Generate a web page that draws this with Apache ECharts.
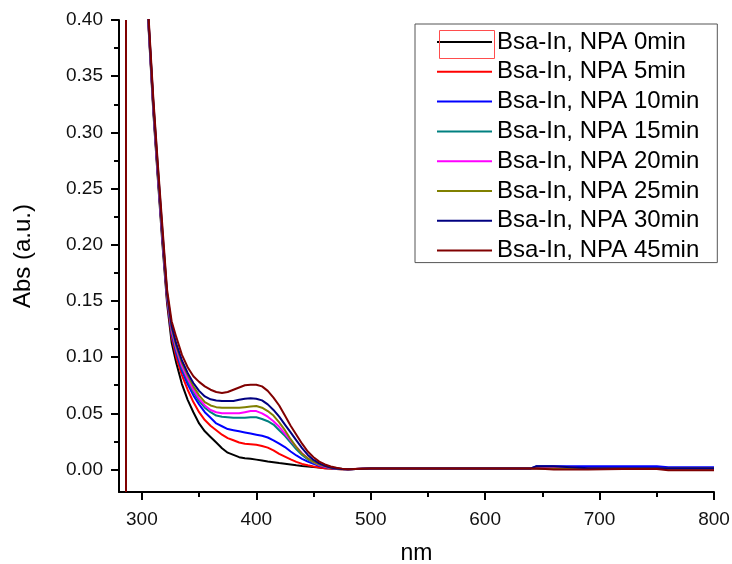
<!DOCTYPE html>
<html>
<head>
<meta charset="utf-8">
<script src="https://cdn.jsdelivr.net/npm/echarts@6/dist/echarts.min.js"></script>
<style>
html,body{margin:0;padding:0;background:#fff;}
#chart{width:732px;height:564px;}
</style>
</head>
<body>
<div id="chart"></div>
<script>
// ---- data ----
const wavelengths = [303, 306, 310, 314, 318, 322, 326, 330, 335, 340, 345, 350, 355, 360, 365, 370, 375, 380, 385, 390, 395, 400, 405, 410, 415, 420, 425, 430, 435, 440, 445, 450, 455, 460, 465, 470, 475, 480, 500, 550, 600, 640, 645, 660, 690, 720, 750, 760, 800];

const seriesNames = ['Bsa-In, NPA 0min', 'Bsa-In, NPA 5min', 'Bsa-In, NPA 10min', 'Bsa-In, NPA 15min', 'Bsa-In, NPA 20min', 'Bsa-In, NPA 25min', 'Bsa-In, NPA 30min', 'Bsa-In, NPA 45min'];
const seriesColors = ['#000000', '#FF0000', '#0000FF', '#008080', '#FF00FF', '#808000', '#000080', '#800000'];

const abs0min = [0.455, 0.390, 0.318, 0.258, 0.200, 0.148, 0.113, 0.095, 0.076, 0.062, 0.051, 0.041, 0.034, 0.029, 0.024, 0.019, 0.015, 0.013, 0.011, 0.010, 0.0095, 0.0088, 0.0080, 0.0072, 0.0065, 0.0058, 0.0052, 0.0045, 0.0038, 0.0032, 0.0027, 0.0022, 0.0017, 0.0012, 0.0008, 0.0005, 0.0003, 0.0002, 0.0008, 0.0010, 0.0010, 0.0010, 0.0010, 0.0010, 0.0010, 0.0010, 0.0010, 0.0008, 0.0008];
const abs5min = [0.457, 0.392, 0.321, 0.261, 0.204, 0.151, 0.118, 0.100, 0.084, 0.071, 0.060, 0.051, 0.044, 0.039, 0.035, 0.031, 0.028, 0.026, 0.024, 0.023, 0.0225, 0.022, 0.021, 0.0195, 0.017, 0.014, 0.0115, 0.009, 0.0068, 0.005, 0.0038, 0.0027, 0.0018, 0.0012, 0.0008, 0.0005, 0.0003, 0.0002, 0.0012, 0.0012, 0.0012, 0.0012, 0.0012, 0.0012, 0.0012, 0.0012, 0.0012, 0.0012, 0.0010];
const abs10min = [0.458, 0.393, 0.322, 0.262, 0.205, 0.153, 0.121, 0.104, 0.088, 0.076, 0.066, 0.058, 0.051, 0.046, 0.041, 0.0385, 0.036, 0.035, 0.034, 0.033, 0.032, 0.031, 0.030, 0.0285, 0.026, 0.023, 0.020, 0.016, 0.0125, 0.0095, 0.007, 0.005, 0.0034, 0.0022, 0.0013, 0.0007, 0.0004, 0.0002, 0.0010, 0.0010, 0.0010, 0.0010, 0.0030, 0.0030, 0.0030, 0.0030, 0.0030, 0.0020, 0.0020];
const abs15min = [0.459, 0.394, 0.323, 0.263, 0.206, 0.154, 0.123, 0.106, 0.090, 0.079, 0.069, 0.061, 0.055, 0.051, 0.048, 0.047, 0.0465, 0.046, 0.046, 0.046, 0.0465, 0.0465, 0.045, 0.043, 0.040, 0.035, 0.030, 0.024, 0.018, 0.013, 0.009, 0.006, 0.004, 0.0025, 0.0014, 0.0008, 0.0004, 0.0002, 0.0010, 0.0010, 0.0010, 0.0010, 0.0010, 0.0010, 0.0010, 0.0010, 0.0010, 0.0010, 0.0010];
const abs20min = [0.460, 0.395, 0.324, 0.264, 0.207, 0.155, 0.124, 0.108, 0.092, 0.081, 0.071, 0.063, 0.057, 0.053, 0.051, 0.050, 0.050, 0.050, 0.050, 0.051, 0.052, 0.052, 0.050, 0.047, 0.043, 0.038, 0.032, 0.026, 0.020, 0.0145, 0.010, 0.0065, 0.004, 0.0025, 0.0014, 0.0008, 0.0004, 0.0002, 0.0010, 0.0010, 0.0010, 0.0010, 0.0010, 0.0025, 0.0010, 0.0010, 0.0010, 0.0010, 0.0010];
const abs25min = [0.461, 0.396, 0.325, 0.266, 0.209, 0.156, 0.126, 0.110, 0.095, 0.084, 0.074, 0.066, 0.060, 0.057, 0.0555, 0.055, 0.055, 0.055, 0.055, 0.0555, 0.056, 0.0565, 0.055, 0.052, 0.048, 0.042, 0.035, 0.027, 0.020, 0.014, 0.010, 0.0068, 0.0045, 0.0028, 0.0016, 0.0009, 0.0004, 0.0002, 0.0010, 0.0010, 0.0010, 0.0010, 0.0010, 0.0010, 0.0010, 0.0010, 0.0010, 0.0010, 0.0010];
const abs30min = [0.462, 0.397, 0.327, 0.268, 0.211, 0.157, 0.128, 0.112, 0.097, 0.086, 0.077, 0.070, 0.065, 0.0625, 0.0615, 0.061, 0.061, 0.061, 0.062, 0.063, 0.0635, 0.063, 0.0615, 0.058, 0.053, 0.047, 0.040, 0.033, 0.026, 0.019, 0.013, 0.0085, 0.0055, 0.0033, 0.0018, 0.0010, 0.0005, 0.0002, 0.0010, 0.0010, 0.0010, 0.0010, 0.0030, 0.0030, 0.0012, 0.0012, 0.0012, 0.0012, 0.0012];
const abs45min = [0.465, 0.400, 0.330, 0.271, 0.215, 0.160, 0.132, 0.118, 0.102, 0.091, 0.083, 0.078, 0.074, 0.071, 0.069, 0.068, 0.069, 0.071, 0.073, 0.075, 0.0755, 0.0755, 0.074, 0.070, 0.064, 0.057, 0.048, 0.039, 0.031, 0.023, 0.016, 0.011, 0.007, 0.0045, 0.0027, 0.0015, 0.0008, 0.0003, 0.0010, 0.0010, 0.0010, 0.0010, 0.0010, 0.0000, 0.0000, 0.0005, 0.0005, -0.0006, -0.0006];

const spikeNm = 286;

const xTicks = [300, 400, 500, 600, 700, 800];
const xMinorTicks = [350, 450, 550, 650, 750];
const yTicks = [0, 0.05, 0.10, 0.15, 0.20, 0.25, 0.30, 0.35, 0.40];
const yMinorTicks = [0.025, 0.075, 0.125, 0.175, 0.225, 0.275, 0.325, 0.375];

// ---- chart ----
const allValues = [abs0min, abs5min, abs10min, abs15min, abs20min, abs25min, abs30min, abs45min];
const FONT = '"Liberation Sans", Arial, sans-serif';
const chart = echarts.init(document.getElementById('chart'), null, {renderer: 'canvas'});

const series = allValues.map((vals, i) => {
  const s = {
    name: seriesNames[i],
    type: 'line',
    data: wavelengths.map((w, j) => [w, vals[j]]),
    showSymbol: false,
    symbol: 'none',
    lineStyle: {color: seriesColors[i], width: 2},
    itemStyle: {color: seriesColors[i]},
    clip: true,
    z: 2 + i
  };
  if (i === allValues.length - 1) {
    s.markLine = {
      silent: true,
      symbol: 'none',
      label: {show: false},
      lineStyle: {color: seriesColors[i], width: 2, type: 'solid'},
      data: [{xAxis: spikeNm}]
    };
  }
  return s;
});

const axisLineStyle = {color: '#000', width: 2};

chart.setOption({
  animation: false,
  backgroundColor: '#fff',
  grid: {left: 119, right: 18, top: 20, bottom: 72, outerBoundsMode: 'none', containLabel: false},
  legend: {
    orient: 'vertical',
    left: 415,
    top: 24,
    padding: [6, 18, 0, 22],
    icon: 'rect',
    itemWidth: 55,
    itemHeight: 2,
    itemGap: 5.8,
    borderColor: '#555',
    borderWidth: 1,
    backgroundColor: '#fff',
    textStyle: {fontFamily: FONT, fontSize: 24, color: '#000', lineHeight: 24},
    data: seriesNames
  },
  xAxis: [{
    type: 'value',
    min: 280,
    max: 800,
    name: 'nm',
    nameLocation: 'middle',
    nameGap: 50,
    nameTextStyle: {fontFamily: FONT, fontSize: 23, color: '#000'},
    axisLine: {show: true, onZero: false, lineStyle: axisLineStyle},
    axisTick: {show: true, inside: false, length: 8, lineStyle: axisLineStyle, customValues: xTicks},
    axisLabel: {fontFamily: FONT, fontSize: 19, color: '#111', margin: 18, customValues: xTicks},
    splitLine: {show: false}
  }, {
    type: 'value',
    min: 280,
    max: 800,
    position: 'bottom',
    axisLine: {show: false, onZero: false},
    axisTick: {show: true, inside: false, length: 5, lineStyle: axisLineStyle, customValues: xMinorTicks},
    axisLabel: {show: false},
    splitLine: {show: false}
  }],
  yAxis: [{
    type: 'value',
    min: -0.02,
    max: 0.40,
    name: 'Abs (a.u.)',
    nameLocation: 'middle',
    nameGap: 84,
    nameRotate: 90,
    nameTextStyle: {fontFamily: FONT, fontSize: 24, color: '#000'},
    axisLine: {show: true, onZero: false, lineStyle: axisLineStyle},
    axisTick: {show: true, inside: false, length: 8, lineStyle: axisLineStyle, customValues: yTicks},
    axisLabel: {fontFamily: FONT, fontSize: 19, color: '#111', margin: 16, customValues: yTicks,
      formatter: v => v.toFixed(2)},
    splitLine: {show: false}
  }, {
    type: 'value',
    min: -0.02,
    max: 0.40,
    position: 'left',
    axisLine: {show: false, onZero: false},
    axisTick: {show: true, inside: false, length: 5, lineStyle: axisLineStyle, customValues: yMinorTicks},
    axisLabel: {show: false},
    splitLine: {show: false}
  }],
  graphic: [{
    type: 'rect',
    left: 437,
    top: 28,
    shape: {width: 55, height: 28},
    style: {fill: 'none', stroke: '#FF4D4D', lineWidth: 1},
    z: 100
  }],
  series: series
});
</script>
</body>
</html>
